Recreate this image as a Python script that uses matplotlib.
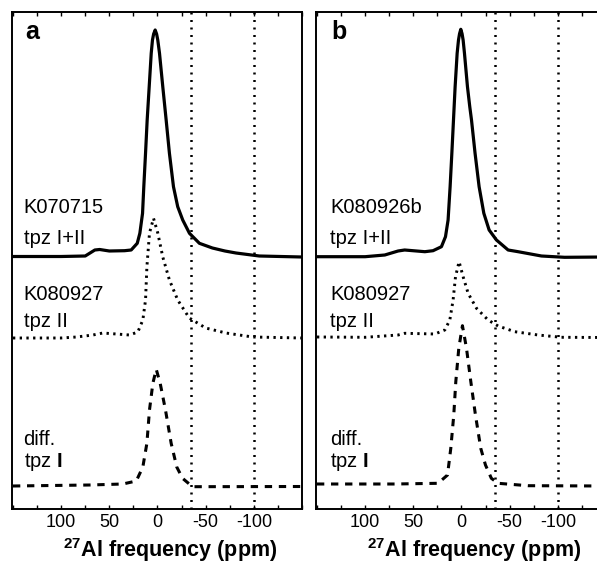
import matplotlib
matplotlib.use('Agg')
import matplotlib.pyplot as plt

plt.rcParams['font.family'] = ['Liberation Sans', 'DejaVu Sans']
plt.rcParams['mathtext.fontset'] = 'custom'
plt.rcParams['mathtext.rm'] = 'Liberation Sans'
plt.rcParams['mathtext.bf'] = 'Liberation Sans:bold'

# --- data (ppm, intensity above baseline) ---
# panel a
a_top_ppm = [150, 100, 75, 65, 60, 50, 34.2, 27.3, 21, 18.3, 15.5, 14.2, 12.4, 10.7, 8.6, 6.5, 5.2, 4.0,
             2.4, 0.9, -0.3, -2.1, -5.5, -9, -12.4, -16.6, -21, -26.2, -33.2, -43.5, -57, -70, -81.5,
             -105.7, -150]
a_top_int = [0, 0, 0.5, 6.5, 7, 5.5, 5.8, 6.5, 13.2, 23.2, 43.2, 69.8, 103.2, 136.5, 169.8, 203.2, 216.5,
             222.5, 226.5, 222.5, 216.5, 203.2, 169.8, 136.5, 103.2, 69.8, 49.8, 36.5, 23.2, 13.2,
             8.5, 5.5, 3.5, 0.5, -0.5]
a_mid_ppm = [150, 100, 84, 67, 56.7, 29, 20.4, 15.2, 12.4, 11, 8.3, 4.1, -0.3, -5.5, -12.4, -21, -33,
             -50, -71, -98.7, -150]
a_mid_int = [0, 0, 1, 3, 5, 3, 6, 18, 38, 71, 105, 119.7, 105, 81, 58, 38, 20, 10, 5, 1, 0]
a_bot_ppm = [150, 70.5, 36, 22, 15.2, 11, 8.3, 4.8, 1.3, -2.8, -8.3, -14.2, -20, -26, -33, -36.6, -150]
a_bot_int = [0, 1, 2, 5, 19, 42.7, 76, 102.7, 116.7, 102.7, 76, 42.7, 19, 7.7, 2, -0.7, -0.5]

# panel b
b_top_ppm = [150, 100, 79.6, 65.8, 59, 38, 29.5, 20.8, 16.6, 13.9, 11.8, 10, 8.3, 6.6, 4.5, 3.1, 2.0,
             0.7, -0.6, -1.7, -3.1, -6.2, -8.6, -10.4, -14.1, -18.3, -23.2, -28.7, -36.3, -48.4,
             -58.8, -83, -107, -150]
b_top_int = [0, 0, 1.7, 5.7, 6.7, 5, 6, 10, 20, 36.7, 70, 103.4, 136.7, 170, 203.4, 216.7, 223,
             227.4, 223, 216.7, 203.4, 170, 150, 136.7, 103.4, 70, 43.4, 26.7, 16.7, 6.7,
             5, 0.7, -0.6, -0.3]
b_mid_ppm = [150, 100, 65.8, 58.9, 27.7, 17.3, 12.1, 8.7, 6.2, 2.5, -1.7, -6.9, -15.6, -27.6, -38,
             -55.3, -79.5, -103.8, -150]
b_mid_int = [0, -0.3, 2, 3.7, 3, 7, 17, 37, 60.3, 75.3, 60.3, 43.7, 28.7, 17, 11, 5.3, 2, -0.3, -0.5]
b_bot_ppm = [150, 69, 24.3, 14.5, 11.1, 8, 5.9, 2.8, -1, -5.2, -9.7, -14.5, -20, -24.9, -31, -38, -69, -150]
b_bot_int = [0, 0, 0.7, 9, 35.7, 69, 102.3, 135.7, 158.3, 135.7, 102.3, 69, 35.7, 19, 5.7, 0.7, -1.7, -2]

ref_lines = [-35, -100]
tick_vals = [100, 50, 0, -50, -100]

panels = [
    dict(letter='a', sample='K070715',
         curves=[(a_top_ppm, a_top_int), (a_mid_ppm, a_mid_int), (a_bot_ppm, a_bot_int)],
         offsets=[252.5, 171, 23], left=12, tx=0.040),
    dict(letter='b', sample='K080926b',
         curves=[(b_top_ppm, b_top_int), (b_mid_ppm, b_mid_int), (b_bot_ppm, b_bot_int)],
         offsets=[252.3, 172, 25], left=316, tx=0.048),
]

styles = [dict(ls='-', lw=2.3),
          dict(ls=(0, (0.8, 1.5)), lw=2.1),
          dict(ls=(0, (2.4, 2.2)), lw=2.2)]

W, H = 597, 563
fig = plt.figure(figsize=(W / 100, H / 100), dpi=100)

for p in panels:
    ax = fig.add_axes([p['left'] / W, (H - 509) / H, 290 / W, 497 / H])
    for (x, y), off, st in zip(p['curves'], p['offsets'], styles):
        ax.plot(x, [v + off for v in y], color='black', linestyle=st['ls'], lw=st['lw'],
                solid_capstyle='round', solid_joinstyle='round', dash_capstyle='butt', zorder=3)
    for v in ref_lines:
        ax.axvline(v, color='black', linestyle=(0, (0.8, 2.2)), lw=1.8, zorder=2)
    ax.set_xlim(151, -149.5)
    ax.set_ylim(0, 497)
    ax.set_yticks([])
    ax.set_xticks(tick_vals)
    ax.set_xticklabels([str(t) for t in tick_vals])
    ax.set_xticks(range(-150, 151, 25), minor=True)
    ax.tick_params(axis='x', which='both', direction='in', top=True, length=3, width=1,
                   labelsize=13)
    for s in ax.spines.values():
        s.set_linewidth(1.4)

    tx = p['tx']
    fs = 14.5
    ax.text(tx + 0.005, 0.945, p['letter'], transform=ax.transAxes, fontsize=18,
            fontweight='bold', va='baseline')
    ax.text(tx, 0.596, p['sample'], transform=ax.transAxes, fontsize=fs, va='baseline')
    ax.text(tx, 0.533, 'tpz I+II', transform=ax.transAxes, fontsize=fs, va='baseline')
    ax.text(tx, 0.4205, 'K080927', transform=ax.transAxes, fontsize=fs, va='baseline')
    ax.text(tx, 0.366, 'tpz II', transform=ax.transAxes, fontsize=fs, va='baseline')
    ax.text(tx, 0.129, 'diff.', transform=ax.transAxes, fontsize=fs, va='baseline')
    ax.text(tx, 0.0845, r'tpz $\mathbf{I}$', transform=ax.transAxes, fontsize=fs, va='baseline')
    ax.text(0.547, -0.096, r'$^{\mathbf{27}}$Al frequency (ppm)', transform=ax.transAxes,
            fontsize=15.5, fontweight='bold', ha='center', va='baseline')

fig.savefig('out.png', dpi=100)
